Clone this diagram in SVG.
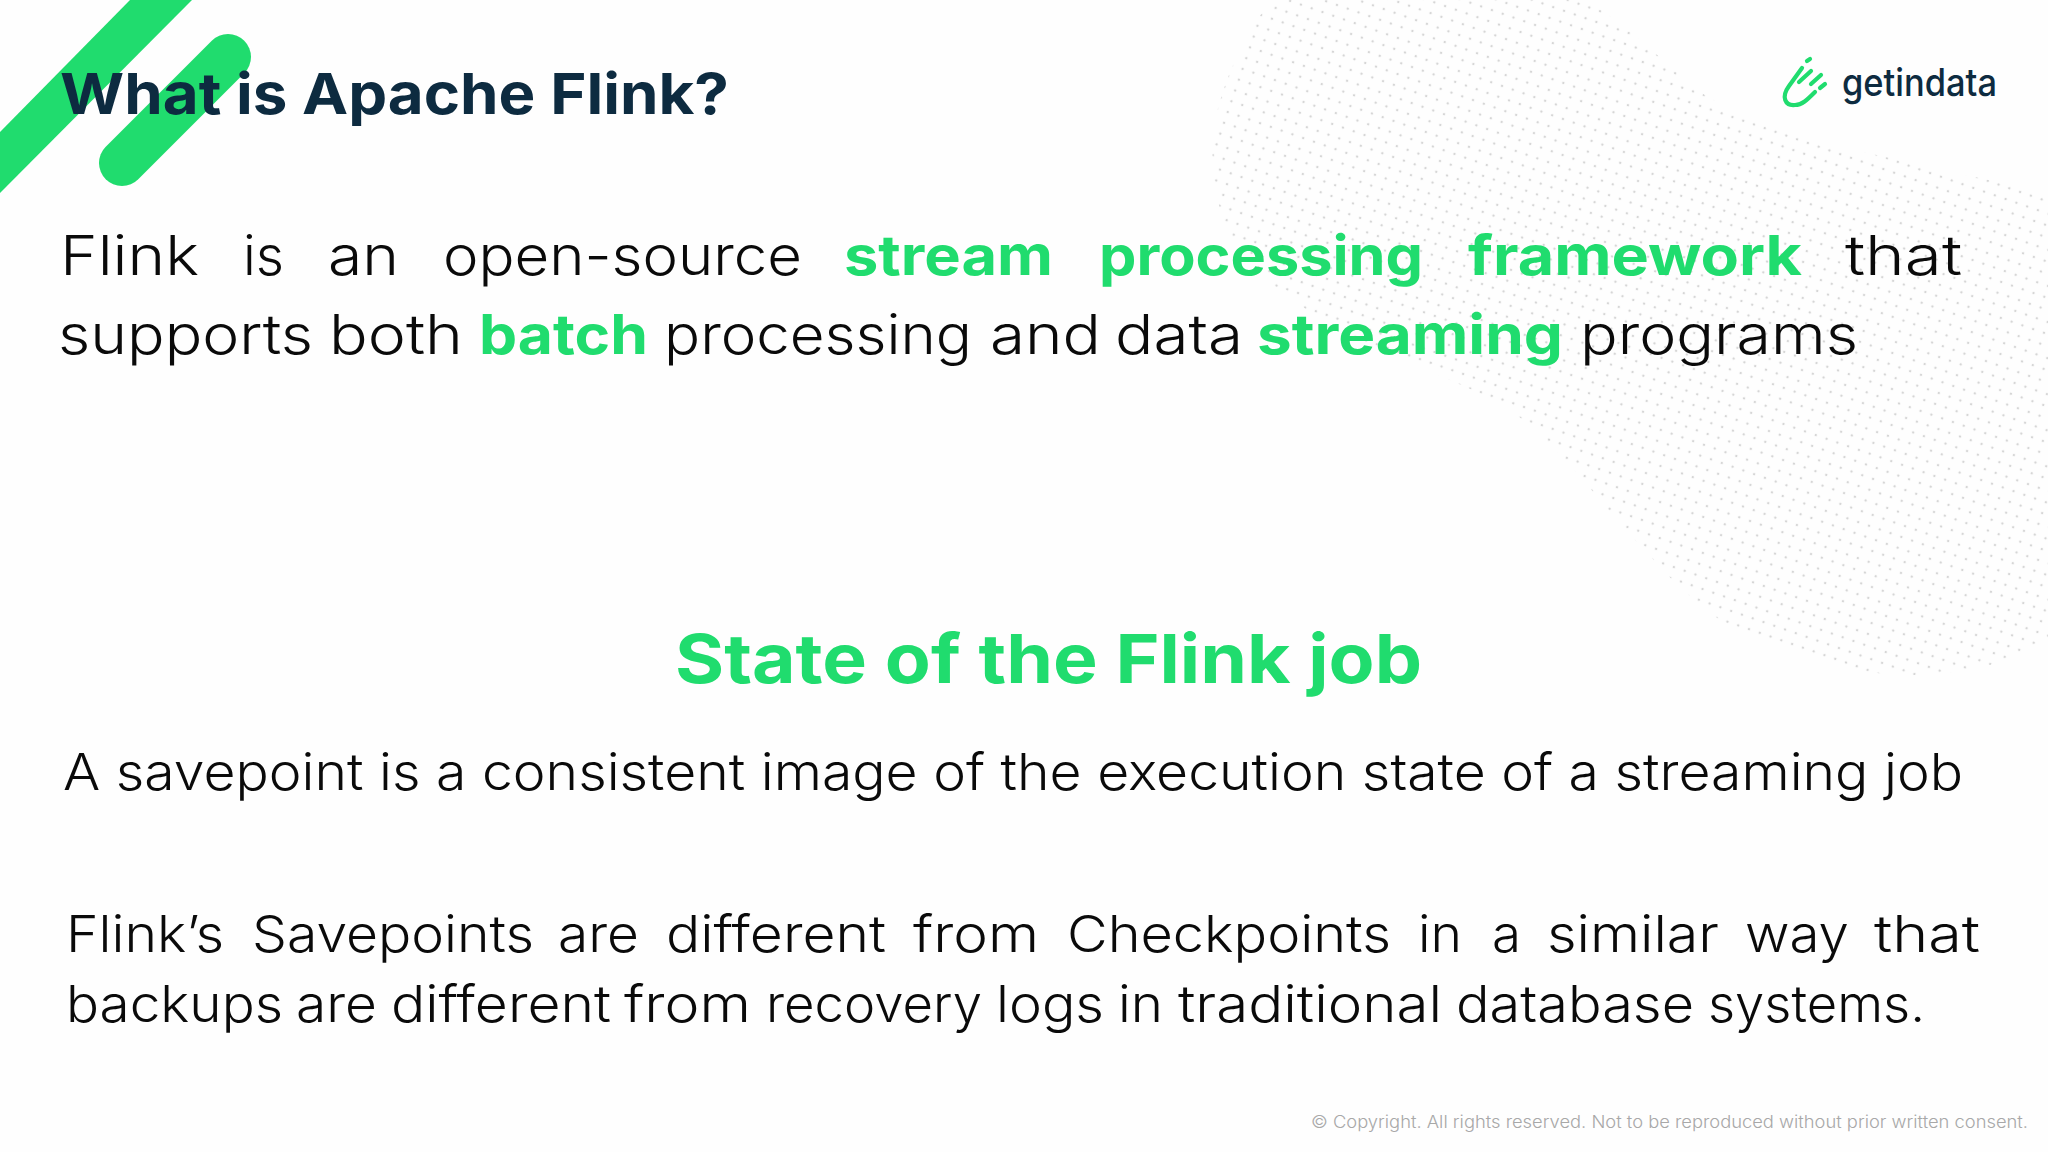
<svg xmlns="http://www.w3.org/2000/svg" width="2048" height="1152" viewBox="0 0 2048 1152">
<style>
text{font-family:"Inter","Liberation Sans",sans-serif;white-space:pre}
.b{font-size:55px;font-weight:350;fill:#0a0a0a}
.c{font-size:51px;font-weight:350;fill:#0a0a0a}
.g{font-weight:700;fill:#20dc6e}
.i{fill:none;stroke:#20dc6e;stroke-linecap:round;stroke-linejoin:round}
</style>
<defs>
<pattern id="dots" width="11.4" height="11.4" patternUnits="userSpaceOnUse" patternTransform="rotate(19 1200 0)" x="1200" y="0">
<circle cx="5.7" cy="5.7" r="1.25" fill="#d6d6d6"/>
</pattern>
</defs>
<rect width="2048" height="1152" fill="#fefefe"/>
<g id="dot-blob">
<path fill="url(#dots)" d="M1272,0 C1250,25 1225,75 1216,117 C1210,150 1211,185 1225,225 C1245,275 1320,325 1401,360 C1460,385 1510,400 1550,445 C1590,485 1615,520 1651,557 C1675,585 1700,605 1720,620 C1780,650 1840,672 1900,675 C1950,677 2010,665 2048,640 L2048,197 C2000,178 1950,175 1900,160 C1830,145 1760,130 1700,92 C1660,60 1630,25 1584,0 Z"/>
</g>
<g id="corner-shapes">
<path fill="#20dc6e" d="M130,0 L192,0 L0,193 L0,132 Z"/>
<line x1="228" y1="57" x2="122" y2="163" stroke="#20dc6e" stroke-width="46" stroke-linecap="round"/>
</g>
<g id="title">
<text x="60" y="114" font-size="57" font-weight="700" fill="#0d2b40" textLength="669" lengthAdjust="spacingAndGlyphs">What is Apache Flink?</text>
</g>
<g id="logo">
<path class="i" stroke-width="4.2" d="M1802,68 L1789,86 C1781,97 1785,106 1795,105 C1802,105 1807,100 1815,92"/>
<path class="i" stroke-width="4.2" d="M1799,82 L1811,71 M1811,84 L1821,75 M1820,88 L1825,84 M1807,61 L1810,59"/>
<text x="1842" y="96" font-size="38" font-weight="500" fill="#0d2b40" textLength="155" lengthAdjust="spacingAndGlyphs">getindata</text>
</g>
<g id="intro">
<text class="b" y="275"><tspan x="60" textLength="139" lengthAdjust="spacingAndGlyphs">Flink</tspan> <tspan x="243" textLength="41" lengthAdjust="spacingAndGlyphs">is</tspan> <tspan x="328" textLength="71" lengthAdjust="spacingAndGlyphs">an</tspan> <tspan x="443" textLength="359" lengthAdjust="spacingAndGlyphs">open-source</tspan> <tspan class="g" x="844" textLength="209" lengthAdjust="spacingAndGlyphs">stream</tspan> <tspan class="g" x="1099" textLength="324" lengthAdjust="spacingAndGlyphs">processing</tspan> <tspan class="g" x="1468" textLength="334" lengthAdjust="spacingAndGlyphs">framework</tspan> <tspan x="1845" textLength="117" lengthAdjust="spacingAndGlyphs">that</tspan></text>
<text class="b" y="354"><tspan x="58" textLength="255" lengthAdjust="spacingAndGlyphs">supports</tspan> <tspan x="329" textLength="134" lengthAdjust="spacingAndGlyphs">both</tspan> <tspan class="g" x="479" textLength="169" lengthAdjust="spacingAndGlyphs">batch</tspan> <tspan x="664" textLength="308" lengthAdjust="spacingAndGlyphs">processing</tspan> <tspan x="990" textLength="111" lengthAdjust="spacingAndGlyphs">and</tspan> <tspan x="1115" textLength="128" lengthAdjust="spacingAndGlyphs">data</tspan> <tspan class="g" x="1257" textLength="306" lengthAdjust="spacingAndGlyphs">streaming</tspan> <tspan x="1580" textLength="278" lengthAdjust="spacingAndGlyphs">programs</tspan></text>
</g>
<g id="heading">
<text x="675" y="683" font-size="68" font-weight="700" fill="#20dc6e" textLength="747" lengthAdjust="spacingAndGlyphs">State of the Flink job</text>
</g>
<g id="savepoint">
<text class="c" x="63" y="790" textLength="1900" lengthAdjust="spacingAndGlyphs">A savepoint is a consistent image of the execution state of a streaming job</text>
</g>
<g id="comparison">
<text class="c" y="952"><tspan x="66" textLength="158" lengthAdjust="spacingAndGlyphs">Flink’s</tspan> <tspan x="252" textLength="282" lengthAdjust="spacingAndGlyphs">Savepoints</tspan> <tspan x="558" textLength="81" lengthAdjust="spacingAndGlyphs">are</tspan> <tspan x="666" textLength="220" lengthAdjust="spacingAndGlyphs">different</tspan> <tspan x="913" textLength="126" lengthAdjust="spacingAndGlyphs">from</tspan> <tspan x="1067" textLength="324" lengthAdjust="spacingAndGlyphs">Checkpoints</tspan> <tspan x="1418" textLength="44" lengthAdjust="spacingAndGlyphs">in</tspan> <tspan x="1492" textLength="29" lengthAdjust="spacingAndGlyphs">a</tspan> <tspan x="1547" textLength="172" lengthAdjust="spacingAndGlyphs">similar</tspan> <tspan x="1745" textLength="104" lengthAdjust="spacingAndGlyphs">way</tspan> <tspan x="1874" textLength="106" lengthAdjust="spacingAndGlyphs">that</tspan></text>
<text class="c" y="1022"><tspan x="66" textLength="217" lengthAdjust="spacingAndGlyphs">backups</tspan> <tspan x="296" textLength="81" lengthAdjust="spacingAndGlyphs">are</tspan> <tspan x="391" textLength="220" lengthAdjust="spacingAndGlyphs">different</tspan> <tspan x="624" textLength="127" lengthAdjust="spacingAndGlyphs">from</tspan> <tspan x="766" textLength="216" lengthAdjust="spacingAndGlyphs">recovery</tspan> <tspan x="996" textLength="108" lengthAdjust="spacingAndGlyphs">logs</tspan> <tspan x="1118" textLength="45" lengthAdjust="spacingAndGlyphs">in</tspan> <tspan x="1178" textLength="264" lengthAdjust="spacingAndGlyphs">traditional</tspan> <tspan x="1456" textLength="238" lengthAdjust="spacingAndGlyphs">database</tspan> <tspan x="1708" textLength="217" lengthAdjust="spacingAndGlyphs">systems.</tspan></text>
</g>
<g id="copyright">
<text x="1311" y="1128" font-size="17" font-weight="300" fill="#a8a8a8" textLength="717" lengthAdjust="spacingAndGlyphs">© Copyright. All rights reserved. Not to be reproduced without prior written consent.</text>
</g>
</svg>
